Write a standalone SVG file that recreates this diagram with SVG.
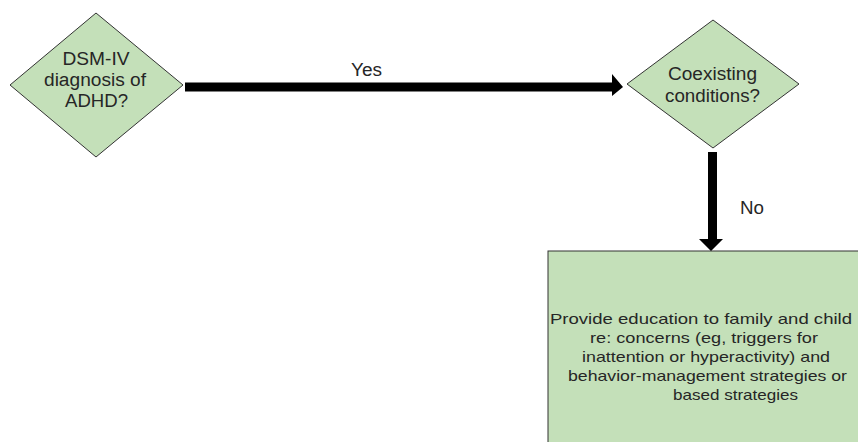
<svg xmlns="http://www.w3.org/2000/svg" width="858" height="442" viewBox="0 0 858 442">
<style>
.shape{fill:#c4e0b9;stroke:#333;stroke-width:1}
.t{font-family:"Liberation Sans",Arial,sans-serif;font-size:18px;fill:#262626;text-anchor:middle}
.b{font-family:"Liberation Sans",Arial,sans-serif;font-size:15px;fill:#262626;text-anchor:middle}
.c{fill:#000}
</style>
<rect width="858" height="442" fill="#fff"/>
<g id="n1">
<polygon class="shape" points="96,13 183,85 96,157 10,85"/>
<text class="t" x="96" y="65" textLength="67" lengthAdjust="spacingAndGlyphs">DSM-IV</text>
<text class="t" x="95" y="86" textLength="102" lengthAdjust="spacingAndGlyphs">diagnosis of</text>
<text class="t" x="96.5" y="107" textLength="63" lengthAdjust="spacingAndGlyphs">ADHD?</text>
</g>
<g id="n2">
<polygon class="shape" points="713,20 799,84 713,148 627,84"/>
<text class="t" x="712.5" y="80" textLength="89" lengthAdjust="spacingAndGlyphs">Coexisting</text>
<text class="t" x="712.5" y="102" textLength="95" lengthAdjust="spacingAndGlyphs">conditions?</text>
</g>
<g id="n3">
<rect class="shape" x="548" y="251" width="315" height="200"/>
<text class="b" x="701" y="324" textLength="302" lengthAdjust="spacingAndGlyphs">Provide education to family and child</text>
<text class="b" x="704" y="343" textLength="228" lengthAdjust="spacingAndGlyphs">re: concerns (eg, triggers for</text>
<text class="b" x="706" y="362" textLength="248" lengthAdjust="spacingAndGlyphs">inattention or hyperactivity) and</text>
<text class="b" x="707.5" y="381" textLength="279" lengthAdjust="spacingAndGlyphs">behavior-management strategies or</text>
<text class="b" x="735.5" y="400" textLength="125" lengthAdjust="spacingAndGlyphs">based strategies</text>
</g>
<g id="connectors">
<polygon class="c" points="185,82.5 612,82.5 612,74 623,87 612,96 612,91.5 185,91.5"/>
<text class="t" x="366.5" y="76" textLength="31" lengthAdjust="spacingAndGlyphs">Yes</text>
<polygon class="c" points="708,152 717,152 717,239 723,239 711,251 699,239 708,239"/>
<text class="t" x="752" y="214" textLength="24" lengthAdjust="spacingAndGlyphs">No</text>
</g>
</svg>
